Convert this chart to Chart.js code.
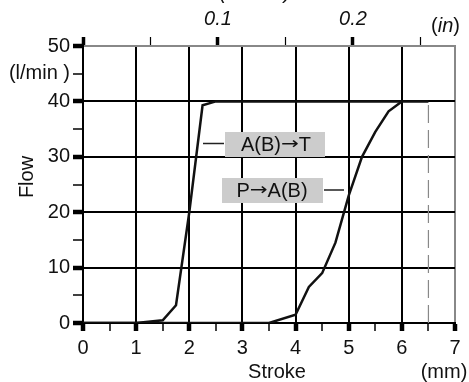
<!DOCTYPE html>
<html>
<head>
<meta charset="utf-8">
<script src="https://cdn.jsdelivr.net/npm/chart.js@4.4.0/dist/chart.umd.min.js"></script>
<style>
html, body { margin: 0; padding: 0; background: #fff; }
</style>
</head>
<body>
<canvas id="flowChart" width="469" height="382"></canvas>
<script>
// A(B)->T curve
const abtStroke = [0, 1, 1.5, 1.75, 2, 2.25, 2.5, 6.5];
const abtFlow = [0, 0, 0.5, 3.2, 20, 39.3, 40, 40];

// P->A(B) curve
const pabStroke = [0, 3.5, 4, 4.25, 4.5, 4.75, 5, 5.25, 5.5, 5.75, 6];
const pabFlow = [0, 0, 1.5, 6.5, 9, 14.5, 23, 30, 34.5, 38.2, 40];

// dashed stroke limit
const limitStroke = [6.5, 6.5];
const limitFlow = [0, 40];

// axis ticks
const strokeTicks = [0, 0.5, 1, 1.5, 2, 2.5, 3, 3.5, 4, 4.5, 5, 5.5, 6, 6.5, 7];
const strokeLabels = ['0', '', '1', '', '2', '', '3', '', '4', '', '5', '', '6', '', '7'];
const flowTicks = [0, 5, 10, 15, 20, 25, 30, 35, 40, 45, 50];
const flowLabels = ['0', '', '10', '', '20', '', '30', '', '40', '(l/min )', '50'];
const inchTicks = [0, 0.05, 0.1, 0.15, 0.2, 0.25];
const inchLabels = ['', '', '0.1', '', '0.2', ''];

const FONT = '"Liberation Sans", Arial, sans-serif';
Chart.defaults.font.family = FONT;
Chart.defaults.font.size = 20;
Chart.defaults.color = '#111';

const toPoints = (xs, ys) => xs.map((x, i) => ({ x: x, y: ys[i] }));
const idxOf = (list, v) => list.findIndex(t => Math.abs(t - v) < 1e-6);
const isMajor = v => Math.abs(v - Math.round(v)) < 1e-6;

// draw text made of pieces, the arrow with a wider glyph
function drawPieces(ctx, pieces, cx, cy) {
    let total = 0;
    pieces.forEach(p => {
        ctx.font = p.font;
        p.w = ctx.measureText(p.text).width * (p.sx || 1);
        total += p.w;
    });
    let x = cx - total / 2;
    ctx.textAlign = 'left';
    ctx.textBaseline = 'middle';
    pieces.forEach(p => {
        ctx.font = p.font;
        ctx.save();
        ctx.translate(x, cy + (p.dy || 0));
        ctx.scale(p.sx || 1, 1);
        ctx.fillText(p.text, 0, 0);
        ctx.restore();
        x += p.w;
    });
}

const overlay = {
    id: 'overlay',
    afterDraw(chart) {
        const ctx = chart.ctx;
        ctx.save();
        ctx.fillStyle = '#111';
        ctx.font = '20px ' + FONT;
        ctx.textAlign = 'center';
        ctx.textBaseline = 'alphabetic';
        ctx.fillText('Stroke', 277, 378);
        ctx.fillText('(mm)', 444, 378);

        ctx.save();
        ctx.translate(33, 177);
        ctx.rotate(-Math.PI / 2);
        ctx.fillText('Flow', 0, 0);
        ctx.restore();

        // top axis title, cut by the page edge
        ctx.font = 'italic 20px ' + FONT;
        ctx.fillText('(Stroke)', 255, -1);

        // (in) with italic unit
        ctx.textAlign = 'left';
        ctx.font = '20px ' + FONT;
        const wp = ctx.measureText('(').width;
        const wc = ctx.measureText(')').width;
        ctx.font = 'italic 20px ' + FONT;
        const wi = ctx.measureText('in').width;
        let x = 460 - wp - wi - wc;
        ctx.font = '20px ' + FONT;
        ctx.fillText('(', x, 32);
        ctx.font = 'italic 20px ' + FONT;
        ctx.fillText('in', x + wp, 32);
        ctx.font = '20px ' + FONT;
        ctx.fillText(')', x + wp + wi, 32);

        // curve labels
        ctx.fillStyle = '#cccccc';
        ctx.fillRect(225, 132, 100, 25);
        ctx.fillRect(222, 178, 101, 25);
        ctx.strokeStyle = '#222';
        ctx.lineWidth = 1.5;
        ctx.beginPath();
        ctx.moveTo(203, 143.5);
        ctx.lineTo(224, 143.5);
        ctx.moveTo(324, 190);
        ctx.lineTo(344, 190);
        ctx.stroke();
        ctx.fillStyle = '#111';
        const f = '20px ' + FONT;
        const fa = '17px "DejaVu Sans", sans-serif';
        drawPieces(ctx, [
            { text: 'A(B)', font: f },
            { text: '\u2192', font: fa, sx: 1.25, dy: 0 },
            { text: 'T', font: f }
        ], 276, 145);
        drawPieces(ctx, [
            { text: 'P', font: f },
            { text: '\u2192', font: fa, sx: 1.25, dy: 0 },
            { text: 'A(B)', font: f }
        ], 272, 191);
        ctx.restore();
    }
};

new Chart(document.getElementById('flowChart'), {
    type: 'line',
    data: {
        datasets: [
            {
                label: 'A(B)\u2192T',
                data: toPoints(abtStroke, abtFlow),
                borderColor: '#111',
                borderWidth: 2.5,
                pointRadius: 0,
                tension: 0
            },
            {
                label: 'P\u2192A(B)',
                data: toPoints(pabStroke, pabFlow),
                borderColor: '#111',
                borderWidth: 2.5,
                pointRadius: 0,
                tension: 0
            },
            {
                label: 'limit',
                data: toPoints(limitStroke, limitFlow),
                borderColor: '#888',
                borderWidth: 1.2,
                borderDash: [18, 7],
                pointRadius: 0
            }
        ]
    },
    options: {
        responsive: false,
        animation: false,
        layout: { padding: { left: 0, right: 14, top: 0, bottom: 0 } },
        plugins: {
            legend: { display: false },
            tooltip: { enabled: false }
        },
        scales: {
            x: {
                type: 'linear',
                position: 'bottom',
                min: 0,
                max: 7,
                afterBuildTicks: s => { s.ticks = strokeTicks.map(v => ({ value: v })); },
                afterFit: s => { s.height = 59; },
                ticks: {
                    autoSkip: false,
                    maxRotation: 0,
                    padding: 5,
                    color: '#111',
                    callback: v => strokeLabels[idxOf(strokeTicks, v)]
                },
                grid: {
                    color: c => {
                        const v = c.tick ? c.tick.value : 0;
                        if (!isMajor(v)) return 'rgba(0,0,0,0)';
                        return v === 7 ? '#888' : '#000';
                    },
                    lineWidth: c => (c.tick && isMajor(c.tick.value)) ? 2 : 0,
                    tickColor: '#000',
                    tickWidth: c => (c.tick && isMajor(c.tick.value)) ? 4.5 : 1.5,
                    tickLength: 8
                },
                border: { color: '#000', width: 2 }
            },
            x2: {
                type: 'linear',
                position: 'top',
                min: 0,
                max: 7 / 25.4,
                afterBuildTicks: s => { s.ticks = inchTicks.map(v => ({ value: v })); },
                afterFit: s => { s.height = 46; },
                ticks: {
                    autoSkip: false,
                    maxRotation: 0,
                    padding: 6,
                    color: '#111',
                    font: { style: 'italic', size: 20 },
                    callback: v => inchLabels[idxOf(inchTicks, v)]
                },
                grid: {
                    drawOnChartArea: false,
                    tickColor: '#000',
                    tickWidth: c => {
                        const v = c.tick ? c.tick.value : 0;
                        return (idxOf([0, 0.1, 0.2], v) >= 0) ? 3.5 : 1.2;
                    },
                    tickLength: 9
                },
                border: { color: '#888', width: 2 }
            },
            y: {
                type: 'linear',
                min: 0,
                max: 50,
                afterBuildTicks: s => { s.ticks = flowTicks.map(v => ({ value: v })); },
                afterFit: s => { s.width = 83; },
                ticks: {
                    autoSkip: false,
                    padding: 3,
                    color: '#111',
                    callback: v => flowLabels[idxOf(flowTicks, v)]
                },
                grid: {
                    color: c => {
                        const v = c.tick ? c.tick.value : 0;
                        return (v % 10 === 0 && v > 0 && v < 50) ? '#000' : 'rgba(0,0,0,0)';
                    },
                    lineWidth: c => {
                        const v = c.tick ? c.tick.value : 0;
                        return (v % 10 === 0 && v > 0 && v < 50) ? 2 : 0;
                    },
                    tickColor: '#000',
                    tickWidth: c => (c.tick && c.tick.value % 10 === 0) ? 4.5 : 1.5,
                    tickLength: 10
                },
                border: { color: '#000', width: 2 }
            }
        }
    },
    plugins: [overlay]
});
</script>
</body>
</html>
